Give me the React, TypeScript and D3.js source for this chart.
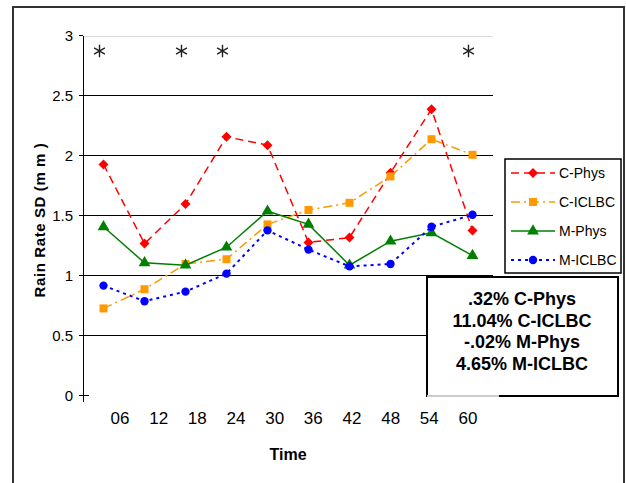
import React from 'react';
import * as d3 from 'd3';

const times = ['06', '12', '18', '24', '30', '36', '42', '48', '54', '60'];
const cPhys = [1.93, 1.27, 1.6, 2.16, 2.09, 1.28, 1.32, 1.86, 2.39, 1.38];
const cIclbc = [0.73, 0.89, 1.1, 1.14, 1.43, 1.55, 1.61, 1.83, 2.14, 2.01];
const mPhys = [1.41, 1.11, 1.09, 1.24, 1.54, 1.43, 1.09, 1.29, 1.36, 1.17];
const mIclbc = [0.92, 0.79, 0.87, 1.02, 1.38, 1.22, 1.08, 1.1, 1.41, 1.51];
const yTicks = [0, 0.5, 1, 1.5, 2, 2.5, 3];
const starIdx = [0, 2, 3, 9];
const statLines = ['.32% C-Phys', '11.04% C-ICLBC', '-.02% M-Phys', '4.65% M-ICLBC'];

// diamond = square turned by 45 degrees, like the Excel marker
const series = [
  { name: 'C-Phys', values: cPhys, color: '#ff0000', dash: '8,5', width: 1.5, symbol: d3.symbolSquare, size: 50, rot: 45 },
  { name: 'C-ICLBC', values: cIclbc, color: '#ff9900', dash: '9,4,2,4', width: 1.5, symbol: d3.symbolSquare, size: 64, rot: 0 },
  { name: 'M-Phys', values: mPhys, color: '#008000', dash: null, width: 1.5, symbol: d3.symbolTriangle, size: 60, rot: 0 },
  { name: 'M-ICLBC', values: mIclbc, color: '#0000ff', dash: '3,4', width: 2, symbol: d3.symbolCircle, size: 55, rot: 0 },
];

const W = 626;
const H = 483;
const plot = { left: 83, top: 36, right: 493, bottom: 396 };
const font = 'Arial, "Liberation Sans", sans-serif';

export default function App() {
  const x = d3.scaleBand<number>()
    .domain(d3.range(times.length))
    .range([plot.left, plot.right]);
  const cx = (i: number) => (x(i) as number) + x.bandwidth() / 2;
  const y = d3.scaleLinear().domain([0, 3]).range([plot.bottom, plot.top]);
  // the category labels sit a little off the points in the original
  const xl = d3.scalePoint<string>().domain(times).range([120, 468]);

  const line = d3.line<number>()
    .x((_, i) => cx(i))
    .y(d => y(d));

  const star = d3.symbol(d3.symbolAsterisk, 110)();

  return (
    <svg width={W} height={H} style={{ position: 'absolute', left: 0, top: 0, fontFamily: font }}>
      <rect x={0} y={0} width={W} height={H} fill="#fff" />
      <rect x={13} y={7} width={611} height={H} fill="none" stroke="#333" strokeWidth={2} />

      {/* grid */}
      {yTicks.filter(t => t > 0 && t < 3).map(t => (
        <line key={t} x1={plot.left} x2={plot.right} y1={y(t) - 0.5} y2={y(t) - 0.5} stroke="#000" strokeWidth={1} />
      ))}
      <line x1={plot.left} x2={plot.right} y1={y(3) + 0.5} y2={y(3) + 0.5} stroke="#d9d9d9" strokeWidth={1} />

      {/* y axis */}
      <line x1={plot.left + 0.5} x2={plot.left + 0.5} y1={plot.top} y2={plot.bottom + 6} stroke="#000" strokeWidth={1} />
      {yTicks.map(t => (
        <g key={t}>
          <line x1={plot.left - 4} x2={t === 0 ? plot.left + 6 : plot.left} y1={y(t) - 0.5} y2={y(t) - 0.5} stroke="#000" />
          <text x={73} y={y(t)} dy="0.35em" textAnchor="end" fontSize={15} fill="#000">{t}</text>
        </g>
      ))}
      <text transform={`translate(45,${(plot.top + plot.bottom) / 2 + 4}) rotate(-90)`} textAnchor="middle"
        fontSize={15} fontWeight="bold" letterSpacing={0.6}>Rain Rate SD (m m )</text>

      {/* x labels */}
      {times.map(t => (
        <text key={t} x={xl(t)} y={424} textAnchor="middle" fontSize={17}>{t}</text>
      ))}
      <text x={(plot.left + plot.right) / 2} y={460} textAnchor="middle" fontSize={16} fontWeight="bold">Time</text>

      {/* significance marks */}
      {starIdx.map(i => (
        <path key={i} d={star!} transform={`translate(${cx(i) - 4},51)`} stroke="#222" strokeWidth={1.4} fill="none" />
      ))}

      {/* stats box */}
      <rect x={427} y={277} width={191} height={119} fill="#fff" stroke="#000" strokeWidth={2} />
      <line x1={427} x2={499} y1={396} y2={396} stroke="#ccc" strokeWidth={2} />
      {statLines.map((s, i) => (
        <text key={s} x={522} y={305 + i * 21.5} textAnchor="middle" fontSize={18} fontWeight="bold">{s}</text>
      ))}

      {/* series */}
      {series.map(s => (
        <g key={s.name}>
          <path d={line(s.values)!} fill="none" stroke={s.color} strokeWidth={s.width}
            strokeDasharray={s.dash ?? undefined} />
          {s.values.map((v, i) => (
            <path key={i} d={d3.symbol(s.symbol, s.size)()!}
              transform={`translate(${cx(i)},${y(v)}) rotate(${s.rot})`} fill={s.color} />
          ))}
        </g>
      ))}

      {/* legend */}
      <rect x={505} y={159} width={116} height={114} fill="#fff" stroke="#000" strokeWidth={1.5} />
      {series.map((s, i) => {
        const ly = 173 + i * 29;
        return (
          <g key={s.name}>
            <line x1={511} x2={555} y1={ly} y2={ly} stroke={s.color} strokeWidth={s.width}
              strokeDasharray={s.dash ?? undefined} />
            <path d={d3.symbol(s.symbol, s.size)()!} transform={`translate(533,${ly}) rotate(${s.rot})`} fill={s.color} />
            <text x={559} y={ly} dy="0.35em" fontSize={14}>{s.name}</text>
          </g>
        );
      })}
    </svg>
  );
}
